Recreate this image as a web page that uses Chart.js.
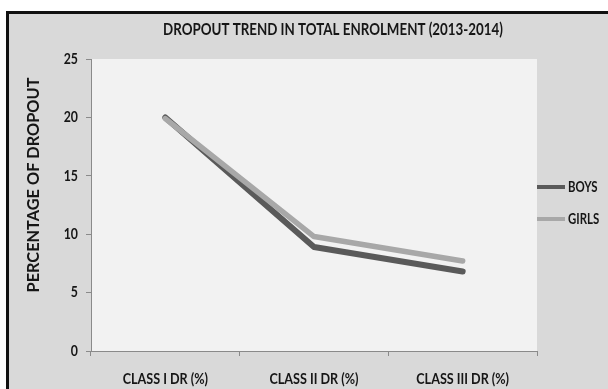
<!DOCTYPE html>
<html>
<head>
<meta charset="utf-8">
<script src="https://cdn.jsdelivr.net/npm/chart.js@4"></script>
<style>
  html, body { margin: 0; padding: 0; background: #fff; }
  #wrap { position: relative; width: 608px; height: 389px; overflow: hidden; }
  #frame {
    position: absolute; left: 6px; top: 11px; width: 610px; height: 400px;
    background: #d9d9d9; border-left: 3px solid #111; border-top: 3px solid #111;
  }
  #chart { position: absolute; left: 0; top: 0; }
</style>
</head>
<body>
<div id="wrap">
  <div id="frame"></div>
  <canvas id="chart" width="608" height="389"></canvas>
</div>
<script>
// Tasa de abandono por clase (2013-2014)
const classLabels = ['CLASS I DR (%)', 'CLASS II DR (%)', 'CLASS III DR (%)'];
const boysDropout = [20.0, 8.9, 6.8];
const girlsDropout = [19.9, 9.8, 7.7];
const yTicks = [0, 5, 10, 15, 20, 25];
const chartTitle = 'DROPOUT TREND IN TOTAL ENROLMENT (2013-2014)';
const yTitle = 'PERCENTAGE OF DROPOUT';

const FONT = 'Lato, "Open Sans", sans-serif';
const TEXT = '#161616';
const AXIS = '#8a8a8a';

// texto en negrita, comprimido en horizontal (letra estrecha)
function drawText(ctx, str, x, y, size, align, squeeze, angle) {
    ctx.save();
    ctx.translate(x, y);
    if (angle) ctx.rotate(angle);
    ctx.scale(squeeze, 1);
    ctx.font = 'bold ' + size + 'px ' + FONT;
    ctx.fillStyle = TEXT;
    ctx.textAlign = align;
    ctx.textBaseline = 'middle';
    ctx.fillText(str, 0, 0);
    ctx.restore();
}

// fondo del área de trazado
const plotBackground = {
    id: 'plotBackground',
    beforeDraw(chart) {
        const { ctx, chartArea } = chart;
        ctx.save();
        ctx.fillStyle = '#f2f2f2';
        ctx.fillRect(chartArea.left, chartArea.top, chartArea.right - chartArea.left, chartArea.bottom - chartArea.top);
        ctx.restore();
    }
};

// títulos, etiquetas de ejes y leyenda
const labelsAndLegend = {
    id: 'labelsAndLegend',
    afterDraw(chart) {
        const { ctx, chartArea, scales } = chart;
        drawText(ctx, chartTitle, 333, 30, 17, 'center', 0.785);
        drawText(ctx, yTitle, 34, 185, 17, 'center', 0.96, -Math.PI / 2);

        yTicks.forEach(v => {
            drawText(ctx, String(v), chartArea.left - 13, scales.y.getPixelForValue(v), 15, 'right', 0.82);
        });
        classLabels.forEach((lab, i) => {
            drawText(ctx, lab, scales.x.getPixelForValue(i), chartArea.bottom + 28, 15, 'center', 0.84);
        });

        const midY = (chartArea.top + chartArea.bottom) / 2;
        chart.data.datasets.forEach((ds, i) => {
            const y = midY - 18 + i * 32;
            ctx.save();
            ctx.strokeStyle = ds.borderColor;
            ctx.lineWidth = 4;
            ctx.beginPath();
            ctx.moveTo(chartArea.right, y);
            ctx.lineTo(chartArea.right + 28, y);
            ctx.stroke();
            ctx.restore();
            drawText(ctx, ds.label, chartArea.right + 31, y, 15, 'left', 0.76);
        });
    }
};

new Chart(document.getElementById('chart').getContext('2d'), {
    type: 'line',
    data: {
        labels: classLabels,
        datasets: [
            {
                label: 'BOYS',
                data: boysDropout,
                borderColor: '#5a5a5a',
                borderWidth: 6,
                borderCapStyle: 'round',
                borderJoinStyle: 'round',
                pointRadius: 0,
                order: 2
            },
            {
                label: 'GIRLS',
                data: girlsDropout,
                borderColor: '#a8a8a8',
                borderWidth: 5.5,
                borderCapStyle: 'round',
                borderJoinStyle: 'round',
                pointRadius: 0,
                order: 1
            }
        ]
    },
    options: {
        responsive: false,
        animation: false,
        layout: { padding: { left: 0, right: 71, top: 59, bottom: 0 } },
        plugins: {
            legend: { display: false },
            tooltip: { enabled: false },
            title: { display: false }
        },
        scales: {
            x: {
                offset: true,
                grid: { offset: true, drawOnChartArea: false, drawTicks: true, tickLength: 5, color: AXIS },
                border: { color: AXIS },
                ticks: { display: false },
                afterFit(scale) { scale.height = 38; }
            },
            y: {
                min: 0,
                max: 25,
                afterBuildTicks(scale) { scale.ticks = yTicks.map(v => ({ value: v })); },
                grid: { drawOnChartArea: false, drawTicks: true, tickLength: 5, color: AXIS },
                border: { color: AXIS },
                ticks: { display: false },
                afterFit(scale) { scale.width = 91; }
            }
        }
    },
    plugins: [plotBackground, labelsAndLegend]
});
</script>
</body>
</html>
